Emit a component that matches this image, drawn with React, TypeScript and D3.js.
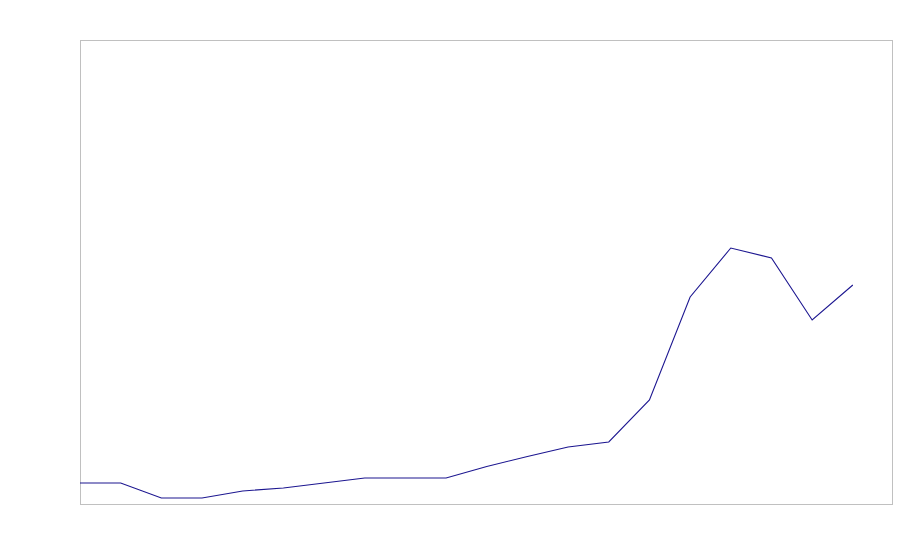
import React from "react";
import * as d3 from "d3";

const xIndex = [0, 1, 2, 3, 4, 5, 6, 7, 8, 9, 10, 11, 12, 13, 14, 15, 16, 17, 18, 19];
const values = [21, 21, 6, 6, 13, 16, 21, 26, 26, 26, 37.5, 47.5, 57, 62, 104, 207, 256, 246, 184, 219];

const W = 900;
const H = 560;
const M = { left: 80, top: 40, right: 8, bottom: 56 };

export default function App() {
  const iw = W - M.left - M.right;
  const ih = H - M.top - M.bottom;
  const x = d3.scaleLinear().domain([0, 20]).range([0, 813.5]);
  const y = d3.scaleLinear().domain([0, 464]).range([ih, 0]);
  const line = d3
    .line<number>()
    .x((_, i) => x(xIndex[i]))
    .y((d) => y(d));
  return (
    <svg width={W} height={H} style={{ position: "absolute", left: 0, top: 0 }}>
      <rect x={0} y={0} width={W} height={H} fill="#fff" />
      <g transform={`translate(${M.left},${M.top})`}>
        <rect x={0.5} y={0.5} width={iw} height={ih} fill="none" stroke="#c0c0c0" strokeWidth={1} />
        <path d={line(values) || ""} fill="none" stroke="#1c1690" strokeWidth={1.1} />
      </g>
    </svg>
  );
}
